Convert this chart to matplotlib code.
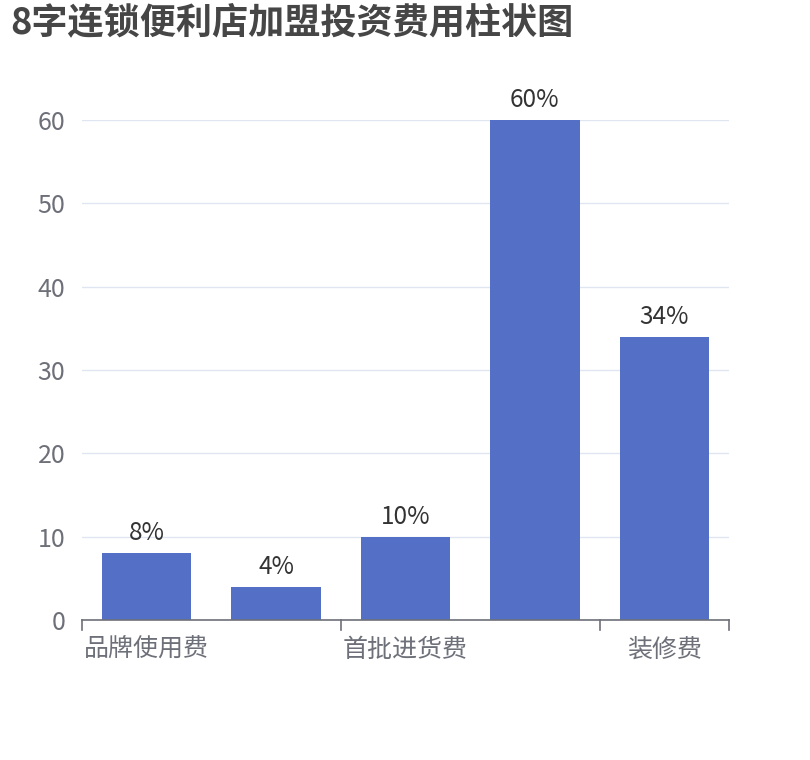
import numpy as np
import matplotlib.pyplot as plt

plt.rcParams['font.family'] = ['Noto Sans CJK SC', 'DejaVu Sans']

# 数据
categories = ['品牌使用费', '保证金', '首批进货费', '设备费', '装修费']
values = [8, 4, 10, 60, 34]
value_labels = ['8%', '4%', '10%', '60%', '34%']
yticks = [0, 10, 20, 30, 40, 50, 60]

fig = plt.figure(figsize=(8.1, 7.6), dpi=100)
ax = fig.add_axes([82/810, 140/760, 647/810, 500/760])

x = np.arange(len(categories))
bars = ax.bar(x, values, width=0.69, color='#5470C6', zorder=3)
for b, lab in zip(bars, value_labels):
    ax.annotate(lab, (b.get_x() + b.get_width()/2, b.get_height()),
                xytext=(0, 5), textcoords='offset points',
                ha='center', va='bottom', fontsize=17.5, color='#333333')

ax.set_xlim(-0.5, len(categories) - 0.5)
ax.set_ylim(0, 60)
ax.set_yticks(yticks)
ax.tick_params(axis='y', length=0, labelsize=18, labelcolor='#6E7079', pad=12)
ax.yaxis.grid(True, color='#E0E6F1', linewidth=1, zorder=0)

# x轴: 隔一个显示标签
ax.set_xticks([0, 2, 4])
ax.set_xticklabels([categories[0], categories[2], categories[4]])
ax.tick_params(axis='x', length=0, labelsize=18, labelcolor='#6E7079', pad=12)
for bx in [-0.5, 1.5, 3.5, 4.5]:
    ax.plot([bx, bx], [0, -1.2], color='#6E7079', lw=1.2, clip_on=False, zorder=4)

for s in ['top', 'right', 'left']:
    ax.spines[s].set_visible(False)
ax.spines['bottom'].set_color('#6E7079')
ax.spines['bottom'].set_linewidth(1.2)
ax.spines['bottom'].set_zorder(4)

fig.text(10/810, 1 - 4/760, '8字连锁便利店加盟投资费用柱状图', ha='left', va='top',
         fontsize=26, fontweight='bold', color='#464646')

fig.savefig('out.png', dpi=100)
